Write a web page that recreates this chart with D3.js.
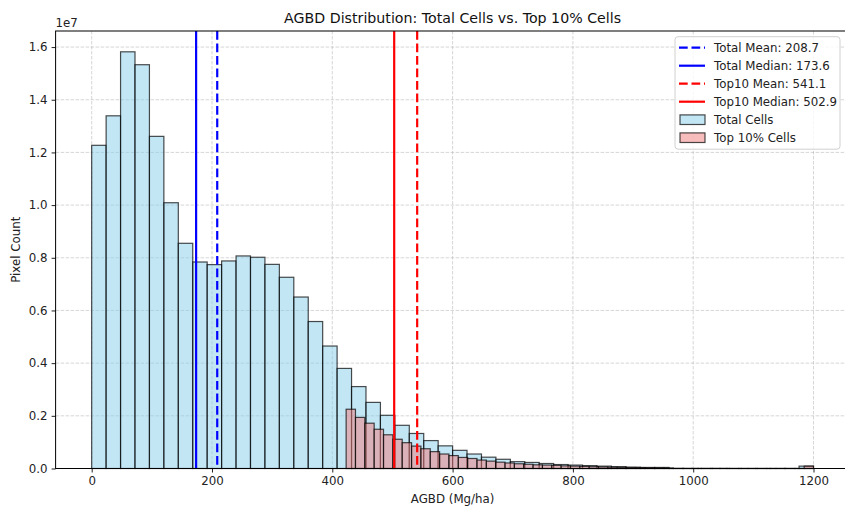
<!DOCTYPE html>
<html>
<head>
<meta charset="utf-8">
<script src="https://cdn.jsdelivr.net/npm/d3@7/dist/d3.min.js"></script>
<style>
  html, body { margin: 0; padding: 0; background: #fff; }
  svg { display: block; font-family: "DejaVu Sans", sans-serif; }
  .tick text { font-size: 11.8px; fill: #222; }
  .tick line { stroke: #222; }
</style>
</head>
<body>
<div id="chart"></div>
<script>
// ── data ─────────────────────────────────────────────────────────────────────
// pixel counts per histogram bin (50 bins each)
const totalRange = [0, 1200];
const totalCounts = [
  1.227e7, 1.339e7, 1.582e7, 1.533e7, 1.261e7, 1.009e7, 0.855e7, 0.784e7, 0.774e7, 0.788e7,
  0.807e7, 0.802e7, 0.775e7, 0.726e7, 0.651e7, 0.558e7, 0.465e7, 0.380e7, 0.311e7, 0.251e7,
  0.202e7, 0.164e7, 0.133e7, 0.106e7, 0.086e7, 0.069e7, 0.055e7, 0.043e7, 0.035e7, 0.026e7,
  0.023e7, 0.019e7, 0.015e7, 0.013e7, 0.011e7, 0.009e7, 0.007e7, 0.005e7, 0.004e7, 0.004e7,
  0.0004e7, 0.0003e7, 0.0003e7, 0.0003e7, 0.0002e7, 0.0002e7, 0.0002e7, 0.0002e7, 0.0002e7, 0.009e7
];

const top10Range = [423, 1200];
const top10Counts = [
  0.225e7, 0.194e7, 0.172e7, 0.149e7, 0.128e7, 0.111e7, 0.098e7, 0.085e7, 0.075e7, 0.064e7,
  0.055e7, 0.049e7, 0.042e7, 0.038e7, 0.032e7, 0.028e7, 0.024e7, 0.021e7, 0.018e7, 0.016e7,
  0.014e7, 0.013e7, 0.012e7, 0.010e7, 0.009e7, 0.008e7, 0.007e7, 0.006e7, 0.005e7, 0.0045e7,
  0.004e7, 0.0035e7, 0.003e7, 0.0025e7, 0.002e7, 0.0003e7, 0.0002e7, 0.0002e7, 0.0002e7, 0.0002e7,
  0.0002e7, 0.0001e7, 0.0001e7, 0.0001e7, 0.0001e7, 0.0001e7, 0.0001e7, 0.0001e7, 0.0001e7, 0.009e7
];

const statNames  = ['Total Mean', 'Total Median', 'Top10 Mean', 'Top10 Median'];
const statValues = [208.7, 173.6, 541.1, 502.9];
const statColors = ['#0000ff', '#0000ff', '#ff0000', '#ff0000'];
const statDashed = [true, false, true, false];

const xTicks = [0, 200, 400, 600, 800, 1000, 1200];
const yTicks = [0, 0.2e7, 0.4e7, 0.6e7, 0.8e7, 1.0e7, 1.2e7, 1.4e7, 1.6e7];

// ── layout ───────────────────────────────────────────────────────────────────
const W = 845, H = 510;
const plotLeft = 55.6, plotRight = 849.6, plotTop = 31, plotBottom = 468.5;

const blueFill = 'rgba(135,206,235,0.5)';
const pinkFill = 'rgba(240,128,128,0.52)';
const barEdge  = 'rgba(0,0,0,0.7)';

const xScale = d3.scaleLinear().domain([-60, 1260]).range([plotLeft, plotRight]);
const yScale = d3.scaleLinear().domain([0, 1.661e7]).range([plotBottom, plotTop]);

function makeBins(range, counts) {
  const w = (range[1] - range[0]) / counts.length;
  return counts.map((c, i) => ({ x0: range[0] + i * w, x1: range[0] + (i + 1) * w, n: c }));
}

const svg = d3.select('#chart').append('svg')
  .attr('width', W).attr('height', H);

// ── grid (below the bars) ────────────────────────────────────────────────────
const grid = svg.append('g').attr('class', 'grid')
  .attr('stroke', 'rgba(176,176,176,0.5)').attr('stroke-width', 1)
  .attr('stroke-dasharray', '3.5,1.5');
grid.selectAll('.gx').data(xTicks).join('line').attr('class', 'gx')
  .attr('x1', d => xScale(d)).attr('x2', d => xScale(d))
  .attr('y1', plotTop).attr('y2', plotBottom);
grid.selectAll('.gy').data(yTicks).join('line').attr('class', 'gy')
  .attr('y1', d => yScale(d)).attr('y2', d => yScale(d))
  .attr('x1', plotLeft).attr('x2', plotRight);

// ── bars ─────────────────────────────────────────────────────────────────────
function drawBars(bins, fill, cls) {
  svg.append('g').attr('class', cls)
    .selectAll('rect')
    .data(bins)
    .join('rect')
      .attr('x', d => xScale(d.x0))
      .attr('width', d => xScale(d.x1) - xScale(d.x0))
      .attr('y', d => yScale(d.n))
      .attr('height', d => yScale(0) - yScale(d.n))
      .attr('fill', fill)
      .attr('stroke', barEdge)
      .attr('stroke-width', 1.2);
}
drawBars(makeBins(totalRange, totalCounts), blueFill, 'bars-total');
drawBars(makeBins(top10Range, top10Counts), pinkFill, 'bars-top10');

// ── mean / median lines ──────────────────────────────────────────────────────
svg.append('g').attr('class', 'stats')
  .selectAll('line')
  .data(statValues)
  .join('line')
    .attr('x1', d => xScale(d)).attr('x2', d => xScale(d))
    .attr('y1', plotTop).attr('y2', plotBottom)
    .attr('stroke', (d, i) => statColors[i])
    .attr('stroke-width', 2.2)
    .attr('stroke-dasharray', (d, i) => statDashed[i] ? '8.7,3.8' : null);

// ── axes ─────────────────────────────────────────────────────────────────────
svg.append('g')
  .attr('transform', `translate(0,${plotBottom})`)
  .call(d3.axisBottom(xScale).tickValues(xTicks).tickSize(4).tickPadding(4).tickFormat(d3.format('d')))
  .call(g => g.select('.domain').remove());

svg.append('g')
  .attr('transform', `translate(${plotLeft},0)`)
  .call(d3.axisLeft(yScale).tickValues(yTicks).tickSize(4).tickPadding(4).tickFormat(d => (d / 1e7).toFixed(1)))
  .call(g => g.select('.domain').remove());

svg.selectAll('.tick text').attr('font-family', '"DejaVu Sans", sans-serif');

// spines
svg.append('rect')
  .attr('x', plotLeft).attr('y', plotTop)
  .attr('width', plotRight - plotLeft).attr('height', plotBottom - plotTop)
  .attr('fill', 'none').attr('stroke', '#000').attr('stroke-width', 1);

// offset text, title, labels
svg.append('text').attr('x', plotLeft).attr('y', 27)
  .attr('font-size', 11.8).attr('fill', '#222').text('1e7');

svg.append('text').attr('x', (plotLeft + plotRight) / 2).attr('y', 23)
  .attr('text-anchor', 'middle').attr('font-size', 14.2).attr('fill', '#111')
  .text('AGBD Distribution: Total Cells vs. Top 10% Cells');

svg.append('text').attr('x', (plotLeft + plotRight) / 2).attr('y', 503)
  .attr('text-anchor', 'middle').attr('font-size', 11.8).attr('fill', '#222')
  .text('AGBD (Mg/ha)');

svg.append('text')
  .attr('transform', `translate(20,${(plotTop + plotBottom) / 2}) rotate(-90)`)
  .attr('text-anchor', 'middle').attr('font-size', 11.8).attr('fill', '#222')
  .text('Pixel Count');

// ── legend ───────────────────────────────────────────────────────────────────
const legend = svg.append('g').attr('class', 'legend');
legend.append('rect')
  .attr('x', 675).attr('y', 36.7).attr('width', 165).attr('height', 112.5)
  .attr('rx', 3).attr('fill', 'rgba(255,255,255,0.8)').attr('stroke', '#d0d0d0');

const legendItems = statNames.map((n, i) => ({
  label: `${n}: ${statValues[i].toFixed(1)}`, type: 'line', color: statColors[i], dashed: statDashed[i]
})).concat([
  { label: 'Total Cells',   type: 'patch', color: blueFill },
  { label: 'Top 10% Cells', type: 'patch', color: pinkFill }
]);

legendItems.forEach((d, i) => {
  const cy = 47.7 + i * 18;
  if (d.type === 'line') {
    legend.append('line')
      .attr('x1', 679).attr('x2', 705).attr('y1', cy).attr('y2', cy)
      .attr('stroke', d.color).attr('stroke-width', 2.2)
      .attr('stroke-dasharray', d.dashed ? '8.7,3.8' : null);
  } else {
    legend.append('rect')
      .attr('x', 680).attr('y', cy - 4.8).attr('width', 25).attr('height', 9.6)
      .attr('fill', d.color).attr('stroke', barEdge).attr('stroke-width', 1.2);
  }
  legend.append('text')
    .attr('x', 714).attr('y', cy).attr('dy', '0.35em')
    .attr('font-size', 11.8).attr('fill', '#222')
    .text(d.label);
});
</script>
</body>
</html>
